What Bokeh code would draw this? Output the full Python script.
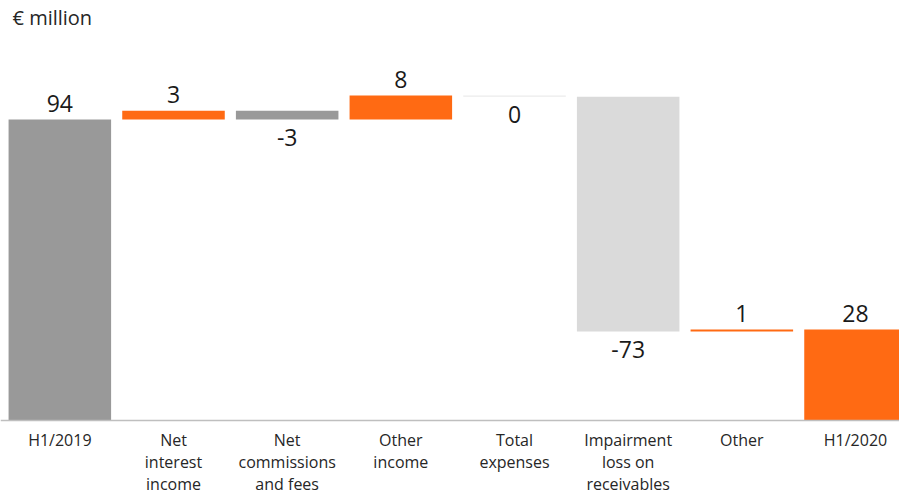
from bokeh.plotting import figure
from bokeh.models import Range1d, Label, ColumnDataSource, Span
from bokeh.core.properties import value
from bokeh.embed import file_html
from bokeh.resources import INLINE

# ---- data ----
categories = ["H1/2019", "Net\ninterest\nincome", "Net\ncommissions\nand fees",
              "Other\nincome", "Total\nexpenses", "Impairment\nloss on\nreceivables",
              "Other", "H1/2020"]
kinds = ["total", "delta", "delta", "delta", "delta", "delta", "delta", "total"]
amounts = [94.0, 2.8, -2.8, 7.5, -0.4, -73.3, 0.6, 28.4]
value_labels = ["94", "3", "-3", "8", "0", "-73", "1", "28"]
bar_colors = ["#999999", "#ff6a13", "#999999", "#ff6a13", "#ebebeb", "#dadada", "#ff6a13", "#ff6a13"]

FONT = "Open Sans"

# waterfall geometry from the data
xs, bottoms, tops = [], [], []
running = 0.0
for i, (k, a) in enumerate(zip(kinds, amounts)):
    if k == "total":
        b, t = 0.0, a
        running = a
    else:
        b, t = running, running + a
        running = running + a
    xs.append(i)
    bottoms.append(b)
    tops.append(t)

up_x, up_y, up_t = [], [], []
dn_x, dn_y, dn_t = [], [], []
for i, (a, b, t, lab) in enumerate(zip(amounts, bottoms, tops, value_labels)):
    if a >= 0:
        up_x.append(i); up_y.append(max(b, t)); up_t.append(lab)
    else:
        dn_x.append(i); dn_y.append(min(b, t)); dn_t.append(lab)

x_start, x_end = -0.522, 7.387
y_start, y_end = -23.73, 131.2

p = figure(width=899, height=496, output_backend="svg", toolbar_location=None,
           x_range=Range1d(x_start, x_end), y_range=Range1d(y_start, y_end),
           x_axis_location=None, y_axis_location=None,
           min_border_left=0, min_border_right=0, min_border_top=0, min_border_bottom=0)
p.outline_line_color = None
p.xgrid.visible = False
p.ygrid.visible = False

src = ColumnDataSource(dict(x=xs, bottom=bottoms, top=tops, color=bar_colors))
p.vbar(x="x", width=0.902, bottom="bottom", top="top", fill_color="color",
       line_color=None, source=src)

# category axis line and labels
p.add_layout(Span(location=0, dimension="width", line_color="#bfbfbf", line_width=1.5))
p.text(x=xs, y=[0] * len(xs), text=categories, text_font=value(FONT),
       text_font_size="16px", text_color="#262626", text_align="center",
       text_baseline="top", text_line_height=1.0, y_offset=8)

p.text(x=up_x, y=up_y, text=up_t, text_font=value(FONT), text_font_size="23px",
       text_color="#1a1a1a", text_align="center", text_baseline="bottom", y_offset=-8)
p.text(x=dn_x, y=dn_y, text=dn_t, text_font=value(FONT), text_font_size="23px",
       text_color="#1a1a1a", text_align="center", text_baseline="top", y_offset=9)

p.add_layout(Label(x=x_start, y=y_end, x_offset=12, y_offset=-3, text="€ million",
                   text_font=FONT, text_font_size="20px", text_color="#262626",
                   text_baseline="top"))

open("out.html", "w").write(file_html(p, INLINE))
